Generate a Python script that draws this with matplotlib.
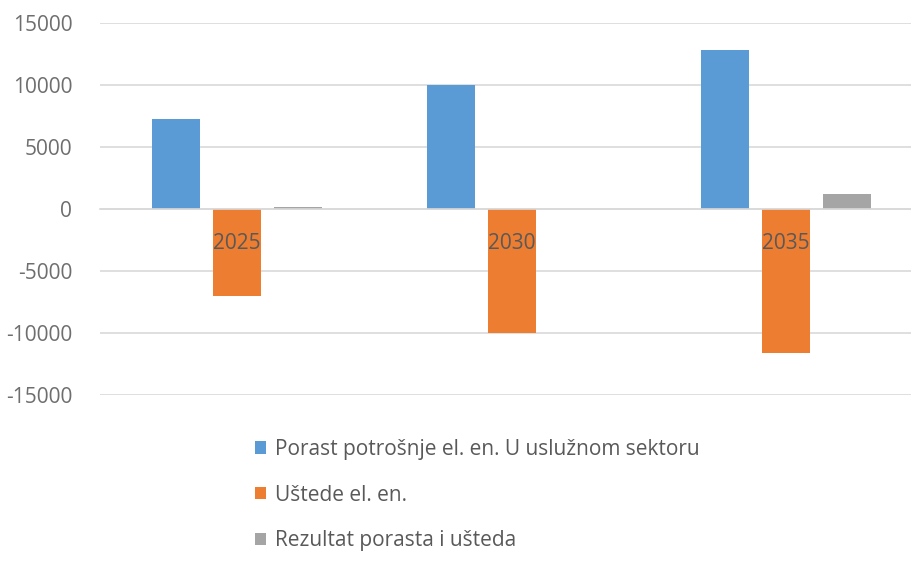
import matplotlib
matplotlib.use("Agg")
import matplotlib.pyplot as plt
import numpy as np

categories = ["2025", "2030", "2035"]
series_names = ["Porast potrošnje el. en. U uslužnom sektoru",
                "Uštede el. en.",
                "Rezultat porasta i ušteda"]
growth = [7300, 10050, 12850]
savings = [-7050, -10000, -11600]
result = [200, 30, 1250]
colors = ["#5B9BD5", "#ED7D31", "#A5A5A5"]
yticks = [-15000, -10000, -5000, 0, 5000, 10000, 15000]

plt.rcParams['font.family'] = ['Open Sans', 'DejaVu Sans']

fig = plt.figure(figsize=(9.12, 5.62), dpi=100)
W, H = 912, 562
left, right = 100, 923.5
top, bottom = 23.3, 395
ax = fig.add_axes([left / W, (H - bottom) / H, (right - left) / W, (bottom - top) / H])

x = np.arange(len(categories))
bw = 0.175
off = 0.222
handles = []
for i, (vals, name) in enumerate(zip([growth, savings, result], series_names)):
    b = ax.bar(x + (i - 1) * off, vals, width=bw, color=colors[i], label=name, zorder=3)
    handles.append(b)

ax.set_xlim(-0.5, len(categories) - 0.5)
ax.set_ylim(-15000, 15000)
ax.set_yticks(yticks)
ax.set_yticklabels([str(v) for v in yticks])
ax.yaxis.grid(True, color="#D9D9D9", linewidth=1.2)
ax.set_axisbelow(True)

for s in ["left", "right", "top"]:
    ax.spines[s].set_visible(False)
ax.spines["bottom"].set_position(("data", 0))
ax.spines["bottom"].set_color("#D9D9D9")
ax.spines["bottom"].set_linewidth(1.2)
ax.spines["bottom"].set_zorder(4)

ax.set_xticks(x)
ax.set_xticklabels(categories)
ax.tick_params(axis="x", length=0, pad=17, labelsize=15, labelcolor="#595959")
ax.tick_params(axis="y", length=0, pad=20, labelsize=15, labelcolor="#6E6E6E")
ax.xaxis.set_zorder(5)

leg = fig.legend(handles=handles, labels=series_names,
                 loc="upper left", bbox_to_anchor=(255 / W, 1 - 439 / H),
                 frameon=False, fontsize=15, labelcolor="#595959",
                 handlelength=0.55, handleheight=0.55, handletextpad=0.4,
                 labelspacing=1.18, borderpad=0, borderaxespad=0)

fig.savefig("out.png", dpi=100)
